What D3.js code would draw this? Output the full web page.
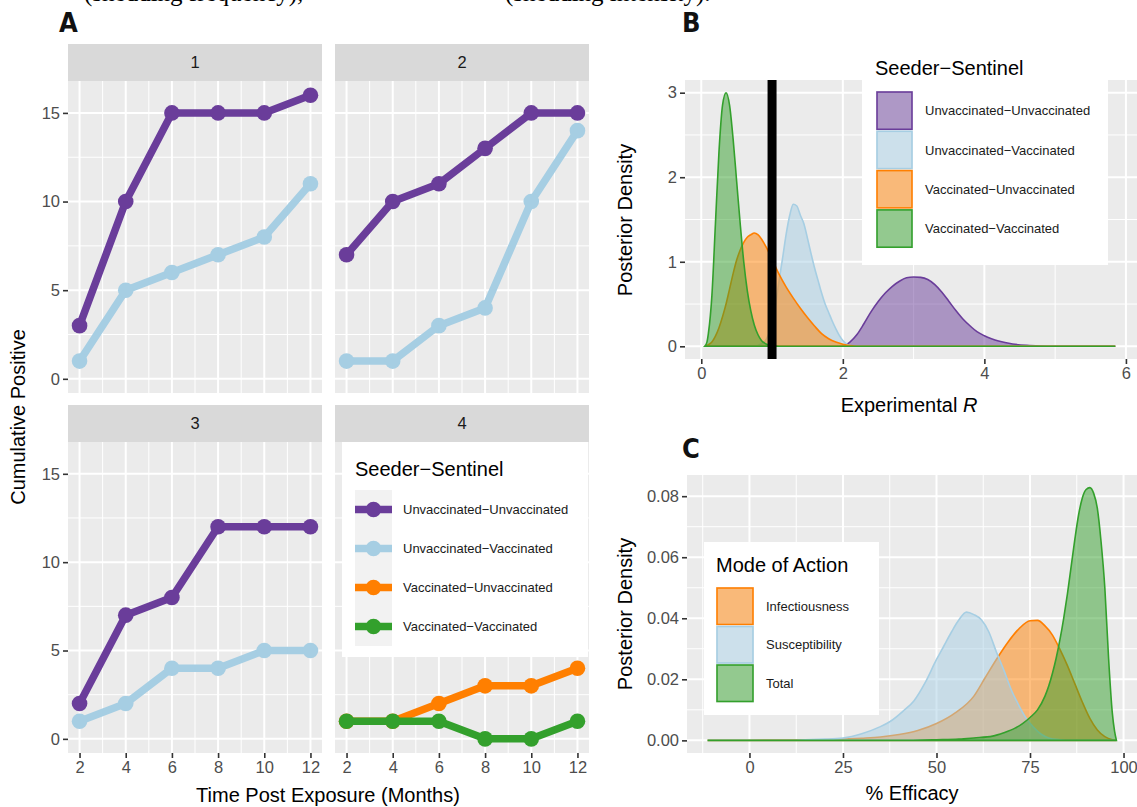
<!DOCTYPE html>
<html>
<head>
<meta charset="utf-8">
<script src="https://cdn.jsdelivr.net/npm/d3@7"></script>
<style>
  body { margin: 0; background: #fff; }
  text { font-family: "Liberation Sans", Arial, sans-serif; }
</style>
</head>
<body>
<svg id="fig" width="1137" height="807"></svg>
<script>
// ---- data ----
const months = [2, 4, 6, 8, 10, 12];
const groups = ["Unvaccinated\u2212Unvaccinated", "Unvaccinated\u2212Vaccinated",
                "Vaccinated\u2212Unvaccinated", "Vaccinated\u2212Vaccinated"];
const groupColors = ["#6a3d9a", "#a6cee3", "#ff7f00", "#33a02c"];
const facets = ["1", "2", "3", "4"];

// cumulative positive per facet (values by month)
const pen1UU = [3, 10, 15, 15, 15, 16];
const pen1UV = [1, 5, 6, 7, 8, 11];
const pen2UU = [7, 10, 11, 13, 15, 15];
const pen2UV = [1, 1, 3, 4, 10, 14];
const pen3UU = [2, 7, 8, 12, 12, 12];
const pen3UV = [1, 2, 4, 4, 5, 5];
const pen4VU = [1, 1, 2, 3, 3, 4];
const pen4VV = [1, 1, 1, 0, 0, 1];

// posterior density of experimental R, [R, density]
const rUU = [[0.05,0],[1.9,0],[2.0,0.005],[2.05,0.02],[2.1,0.05],[2.2,0.14],[2.3,0.27],[2.4,0.41],[2.5,0.53],
  [2.6,0.63],[2.7,0.71],[2.8,0.77],[2.9,0.81],[3.0,0.82],[3.1,0.815],[3.2,0.79],[3.3,0.73],[3.4,0.64],[3.5,0.53],
  [3.6,0.42],[3.7,0.32],[3.8,0.24],[3.9,0.17],[4.0,0.125],[4.1,0.09],[4.2,0.062],[4.4,0.027],[4.6,0.011],
  [4.8,0.004],[5.0,0.001],[5.2,0],[5.85,0]];
const rUV = [[0.05,0],[0.7,0],[0.8,0.01],[0.85,0.03],[0.9,0.06],[0.95,0.14],[1.0,0.28],[1.05,0.5],[1.1,0.78],
  [1.15,1.05],[1.2,1.33],[1.25,1.55],[1.3,1.68],[1.35,1.66],[1.4,1.55],[1.45,1.45],[1.5,1.28],[1.55,1.1],
  [1.6,0.93],[1.65,0.78],[1.7,0.63],[1.75,0.5],[1.8,0.4],[1.85,0.3],[1.9,0.21],[1.95,0.13],[2.0,0.07],
  [2.05,0.03],[2.1,0.01],[2.2,0],[5.85,0]];
const rVU = [[0.05,0],[0.1,0.02],[0.15,0.05],[0.2,0.12],[0.25,0.22],[0.3,0.35],[0.35,0.5],[0.4,0.68],[0.45,0.86],
  [0.5,1.02],[0.55,1.14],[0.6,1.23],[0.65,1.29],[0.7,1.32],[0.75,1.34],[0.8,1.32],[0.85,1.27],[0.9,1.2],
  [0.95,1.12],[1.0,1.03],[1.1,0.85],[1.2,0.7],[1.3,0.57],[1.4,0.45],[1.5,0.34],[1.6,0.24],[1.7,0.15],
  [1.8,0.09],[1.9,0.05],[2.0,0.025],[2.1,0.01],[2.3,0],[5.85,0]];
const rVV = [[0.05,0],[0.08,0.05],[0.1,0.15],[0.15,0.6],[0.2,1.45],[0.25,2.3],[0.3,2.85],[0.35,3.0],[0.4,2.85],
  [0.45,2.45],[0.5,1.95],[0.55,1.45],[0.6,1.0],[0.65,0.66],[0.7,0.42],[0.75,0.25],[0.8,0.14],[0.85,0.07],
  [0.9,0.035],[0.95,0.015],[1.0,0.005],[1.1,0],[5.85,0]];

// posterior density of % efficacy by mode of action, [efficacy, density]
const modes = ["Infectiousness", "Susceptibility", "Total"];
const modeColors = ["#ff7f00", "#a6cee3", "#33a02c"];
const effInf = [[-11.2,0],[0,0.00005],[10,0.0001],[20,0.0002],[25,0.0004],[30,0.0007],[35,0.0011],[40,0.0019],
  [45,0.0032],[50,0.0055],[55,0.009],[60,0.0145],[63,0.0205],[66,0.0265],[69,0.032],[72,0.0365],[75,0.0392],
  [77,0.0393],[79,0.0375],[81,0.0345],[83,0.0298],[85,0.0245],[87,0.0185],[89,0.0125],[91,0.0072],[93,0.0034],
  [95,0.0012],[97,0.0002],[98.1,0]];
const effSus = [[-11.2,0],[10,0],[15,0.0002],[20,0.0004],[25,0.0008],[30,0.0022],[35,0.0045],[38,0.0065],
  [41,0.0095],[44,0.013],[47,0.019],[50,0.0265],[52,0.031],[54,0.0355],[56,0.0395],[58,0.042],[60,0.0412],
  [62,0.0395],[64,0.0355],[66,0.029],[68,0.023],[70,0.0165],[72,0.0115],[74,0.0072],[76,0.0042],[78,0.002],
  [80,0.0008],[83,0.0002],[86,0],[98.1,0]];
const effTot = [[-11.2,0],[40,0],[50,0.0002],[56,0.0004],[60,0.0008],[65,0.0014],[68,0.0025],[71,0.004],
  [73,0.0055],[75,0.0075],[77,0.01],[79,0.0145],[80,0.0178],[81,0.022],[82,0.027],[83,0.033],[84,0.04],
  [85,0.048],[86,0.057],[87,0.066],[88,0.074],[89,0.0795],[90,0.0822],[91,0.0828],[92,0.081],[93,0.076],
  [94,0.065],[95,0.05],[96,0.027],[97,0.009],[97.6,0.003],[98.1,0]];

const aYTicks = [0, 5, 10, 15];
const aYMinor = [2.5, 7.5, 12.5];
const aXMinor = [3, 5, 7, 9, 11];
const bXTicks = [0, 2, 4, 6];
const bXMinor = [1, 3, 5];
const bYTicks = [0, 1, 2, 3];
const bYMinor = [0.5, 1.5, 2.5];
const cXTicks = [0, 25, 50, 75, 100];
const cXMinor = [-12.5, 12.5, 37.5, 62.5, 87.5];
const cYTicks = [0, 0.02, 0.04, 0.06, 0.08];
const cYMinor = [0.01, 0.03, 0.05, 0.07];

// ---- drawing ----
const svg = d3.select("#fig");

// cut-off line of the article text above the figure
svg.append("text").attr("x", 84).attr("y", 1).style("font-family", "'Liberation Serif', serif")
  .style("font-size", "25px").text("(shedding frequency),");
svg.append("text").attr("x", 505).attr("y", 1).style("font-family", "'Liberation Serif', serif")
  .style("font-size", "25px").text("(shedding intensity).");

function panelLabel(x, y, t) {
  svg.append("text").attr("x", x).attr("y", y).text(t)
    .style("font-family", "'Liberation Sans Narrow', 'DejaVu Sans Condensed', sans-serif")
    .style("font-weight", "bold").style("font-size", "27px").attr("fill", "#111");
}

function panelBg(box, x, y, xMaj, xMin, yMaj, yMin) {
  const g = svg.append("g");
  g.append("rect").attr("x", box.l).attr("y", box.t).attr("width", box.r - box.l)
    .attr("height", box.b - box.t).attr("fill", "#ebebeb");
  g.selectAll(null).data(yMin).join("line")
    .attr("x1", box.l).attr("x2", box.r).attr("y1", d => y(d)).attr("y2", d => y(d))
    .attr("stroke", "#fff").attr("stroke-width", 1);
  g.selectAll(null).data(xMin).join("line")
    .attr("y1", box.t).attr("y2", box.b).attr("x1", d => x(d)).attr("x2", d => x(d))
    .attr("stroke", "#fff").attr("stroke-width", 1);
  g.selectAll(null).data(yMaj).join("line")
    .attr("x1", box.l).attr("x2", box.r).attr("y1", d => y(d)).attr("y2", d => y(d))
    .attr("stroke", "#fff").attr("stroke-width", 2);
  g.selectAll(null).data(xMaj).join("line")
    .attr("y1", box.t).attr("y2", box.b).attr("x1", d => x(d)).attr("x2", d => x(d))
    .attr("stroke", "#fff").attr("stroke-width", 2);
  return g;
}

function styleAxis(g) {
  g.select(".domain").remove();
  g.selectAll(".tick line").attr("stroke", "#333").attr("stroke-width", 1.6);
  g.selectAll(".tick text").attr("fill", "#4d4d4d").style("font-size", "16.5px")
    .style("font-family", "'Liberation Sans', Arial, sans-serif");
}

function axisTitle(x, y, t, rotate) {
  const el = svg.append("text").attr("text-anchor", "middle").style("font-size", "20px").attr("fill", "#000");
  if (rotate) el.attr("transform", `translate(${x},${y}) rotate(-90)`).attr("dy", "0.35em");
  else el.attr("x", x).attr("y", y);
  el.text(t);
  return el;
}

// ===== Panel A =====
panelLabel(59, 32, "A");
const aCols = [[68, 322], [335, 589]];
const aRows = [{ st: 44, t: 81, b: 393 }, { st: 405, t: 442, b: 753 }];
const facetSeries = [
  [{ k: 0, v: pen1UU }, { k: 1, v: pen1UV }],
  [{ k: 0, v: pen2UU }, { k: 1, v: pen2UV }],
  [{ k: 0, v: pen3UU }, { k: 1, v: pen3UV }],
  [{ k: 2, v: pen4VU }, { k: 3, v: pen4VV }]
];

facets.forEach((f, i) => {
  const col = aCols[i % 2], row = aRows[Math.floor(i / 2)];
  const box = { l: col[0], r: col[1], t: row.t, b: row.b };
  const x = d3.scaleLinear().domain([1.5, 12.5]).range([box.l, box.r]);
  const y = d3.scaleLinear().domain([-0.8, 16.8]).range([box.b, box.t]);
  const g = panelBg(box, x, y, months, aXMinor, aYTicks, aYMinor);

  // strip
  svg.append("rect").attr("x", box.l).attr("y", row.st).attr("width", box.r - box.l)
    .attr("height", row.t - row.st).attr("fill", "#d9d9d9");
  svg.append("text").attr("x", (box.l + box.r) / 2).attr("y", (row.st + row.t) / 2).attr("dy", "0.35em")
    .attr("text-anchor", "middle").attr("fill", "#1a1a1a").style("font-size", "16.5px").text(f);

  const line = d3.line().x((d, j) => x(months[j])).y(d => y(d));
  facetSeries[i].forEach(s => {
    g.append("path").datum(s.v).attr("d", line).attr("fill", "none")
      .attr("stroke", groupColors[s.k]).attr("stroke-width", 7.5).attr("stroke-linejoin", "round");
    g.selectAll(null).data(s.v).join("circle")
      .attr("cx", (d, j) => x(months[j])).attr("cy", d => y(d)).attr("r", 7.8)
      .attr("fill", groupColors[s.k]);
  });

  if (i % 2 === 0) {
    const ax = svg.append("g").attr("transform", `translate(${box.l},0)`)
      .call(d3.axisLeft(y).tickValues(aYTicks).tickSize(5).tickPadding(3));
    styleAxis(ax);
  }
  if (i >= 2) {
    const ax = svg.append("g").attr("transform", `translate(0,${box.b})`)
      .call(d3.axisBottom(x).tickValues(months).tickSize(5).tickPadding(3));
    styleAxis(ax);
  }
});

// legend A (inside facet 4)
{
  const L = svg.append("g");
  L.append("rect").attr("x", 342).attr("y", 442).attr("width", 246).attr("height", 215).attr("fill", "#fff");
  L.append("text").attr("x", 355).attr("y", 476).style("font-size", "20px").attr("fill", "#000").text("Seeder\u2212Sentinel");
  const kh = 39, k0 = 490;
  L.append("rect").attr("x", 355).attr("y", k0).attr("width", 37).attr("height", kh * 4).attr("fill", "#f2f2f2");
  groups.forEach((gname, j) => {
    const cy = k0 + kh * j + kh / 2;
    L.append("line").attr("x1", 355).attr("x2", 392).attr("y1", cy).attr("y2", cy)
      .attr("stroke", groupColors[j]).attr("stroke-width", 7.5);
    L.append("circle").attr("cx", 373.5).attr("cy", cy).attr("r", 7.8).attr("fill", groupColors[j]);
    L.append("text").attr("x", 403).attr("y", cy).attr("dy", "0.35em").style("font-size", "13px")
      .attr("fill", "#1a1a1a").text(gname);
  });
}

axisTitle(328, 802, "Time Post Exposure (Months)");
axisTitle(18, 417, "Cumulative Positive", true);

// ===== Panel B =====
panelLabel(682, 32, "B");
{
  const box = { l: 685, r: 1137, t: 80, b: 359 };
  const x = d3.scaleLinear().domain([-0.23, 6.1]).range([box.l, 1133]);
  const y = d3.scaleLinear().domain([-0.15, 3.15]).range([box.b, box.t]);
  const g = panelBg(box, x, y, bXTicks, bXMinor, bYTicks, bYMinor);
  const area = d3.area().x(d => x(d[0])).y0(y(0)).y1(d => y(d[1])).curve(d3.curveMonotoneX);
  [rUU, rUV, rVU, rVV].forEach((s, j) => {
    g.append("path").datum(s).attr("d", area).attr("fill", groupColors[j]).attr("fill-opacity", 0.5)
      .attr("stroke", groupColors[j]).attr("stroke-width", 1.6);
  });
  g.append("line").attr("x1", x(1)).attr("x2", x(1)).attr("y1", box.t).attr("y2", box.b)
    .attr("stroke", "#000").attr("stroke-width", 9);

  styleAxis(svg.append("g").attr("transform", `translate(${box.l},0)`)
    .call(d3.axisLeft(y).tickValues(bYTicks).tickFormat(d3.format("d")).tickSize(5).tickPadding(3)));
  styleAxis(svg.append("g").attr("transform", `translate(0,${box.b})`)
    .call(d3.axisBottom(x).tickValues(bXTicks).tickFormat(d3.format("d")).tickSize(5).tickPadding(3)));

  // legend B
  const L = svg.append("g");
  L.append("rect").attr("x", 862).attr("y", 50).attr("width", 246).attr("height", 215).attr("fill", "#fff");
  L.append("text").attr("x", 875).attr("y", 75).style("font-size", "20px").attr("fill", "#000").text("Seeder\u2212Sentinel");
  const kh = 39.3, k0 = 91;
  groups.forEach((gname, j) => {
    const ky = k0 + kh * j;
    L.append("rect").attr("x", 876).attr("y", ky).attr("width", 37).attr("height", kh).attr("fill", "#f2f2f2");
    L.append("rect").attr("x", 877).attr("y", ky + 1).attr("width", 35).attr("height", kh - 2)
      .attr("fill", groupColors[j]).attr("fill-opacity", 0.5).attr("stroke", groupColors[j]).attr("stroke-width", 1.6);
    L.append("text").attr("x", 925).attr("y", ky + kh / 2).attr("dy", "0.35em").style("font-size", "13px")
      .attr("fill", "#1a1a1a").text(gname);
  });

  const t = axisTitle(909, 412, "Experimental ");
  t.append("tspan").style("font-style", "italic").text("R");
  axisTitle(625, 220, "Posterior Density", true);
}

// ===== Panel C =====
panelLabel(682, 458, "C");
{
  const box = { l: 687, r: 1137, t: 475, b: 753 };
  const x = d3.scaleLinear().domain([-16.7, 103.6]).range([box.l, box.r]);
  const y = d3.scaleLinear().domain([-0.00414, 0.08694]).range([box.b, box.t]);
  const g = panelBg(box, x, y, cXTicks, cXMinor, cYTicks, cYMinor);
  const area = d3.area().x(d => x(d[0])).y0(y(0)).y1(d => y(d[1])).curve(d3.curveMonotoneX);
  [effInf, effSus, effTot].forEach((s, j) => {
    g.append("path").datum(s).attr("d", area).attr("fill", modeColors[j]).attr("fill-opacity", 0.5)
      .attr("stroke", modeColors[j]).attr("stroke-width", 1.6);
  });

  styleAxis(svg.append("g").attr("transform", `translate(${box.l},0)`)
    .call(d3.axisLeft(y).tickValues(cYTicks).tickFormat(d3.format(".2f")).tickSize(5).tickPadding(3)));
  styleAxis(svg.append("g").attr("transform", `translate(0,${box.b})`)
    .call(d3.axisBottom(x).tickValues(cXTicks).tickSize(5).tickPadding(3)));

  // legend C
  const L = svg.append("g");
  L.append("rect").attr("x", 704).attr("y", 542).attr("width", 175).attr("height", 173).attr("fill", "#fff");
  L.append("text").attr("x", 716).attr("y", 572).style("font-size", "20px").attr("fill", "#000").text("Mode of Action");
  const kh = 38.5, k0 = 587;
  modes.forEach((m, j) => {
    const ky = k0 + kh * j;
    L.append("rect").attr("x", 716).attr("y", ky).attr("width", 38).attr("height", kh).attr("fill", "#f2f2f2");
    L.append("rect").attr("x", 717).attr("y", ky + 1).attr("width", 36).attr("height", kh - 2)
      .attr("fill", modeColors[j]).attr("fill-opacity", 0.5).attr("stroke", modeColors[j]).attr("stroke-width", 1.6);
    L.append("text").attr("x", 766).attr("y", ky + kh / 2).attr("dy", "0.35em").style("font-size", "13px")
      .attr("fill", "#1a1a1a").text(m);
  });

  axisTitle(912, 800, "% Efficacy");
  axisTitle(625, 614, "Posterior Density", true);
}
</script>
</body>
</html>
